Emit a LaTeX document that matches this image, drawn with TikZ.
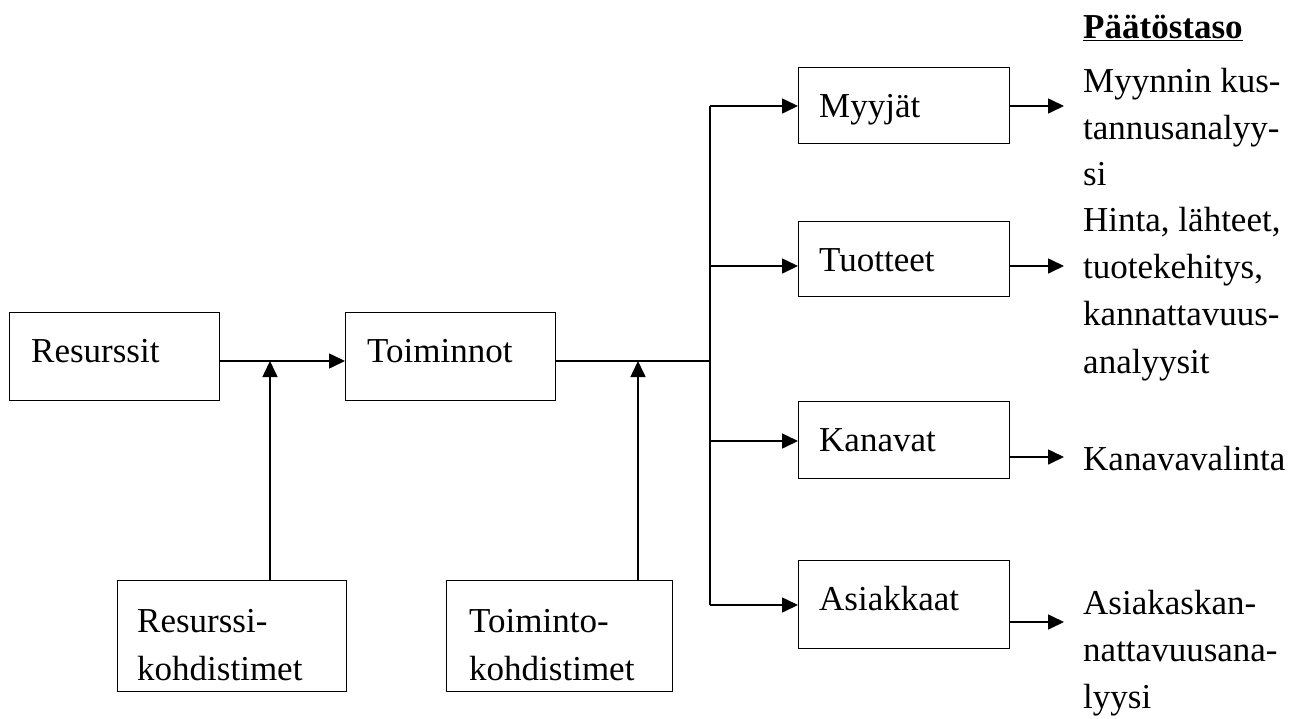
\documentclass[tikz,border=0pt]{standalone}
\usepackage{fontspec}
\setmainfont{Liberation Serif}
\usetikzlibrary{arrows.meta}
\begin{document}
\begin{tikzpicture}[x=1pt,y=-1pt,
  box/.style={draw, line width=1.2pt, inner sep=0pt, anchor=north west},
  txt/.style={anchor=base west, inner sep=0pt, font=\fontsize{35}{47}\selectfont},
  arr/.style={line width=1.6pt, -{Triangle[length=16pt,width=15pt]}},
  thinlink/.style={line width=1.1pt}]
\useasboundingbox (0,0) rectangle (1298,718);

% boxes
\node[box, minimum width=210pt, minimum height=88pt]  (res) at (9,312) {};
\node[box, minimum width=210pt, minimum height=88pt]  (toi) at (345,312) {};
\node[box, minimum width=229pt, minimum height=111pt] (rk)  at (117,580) {};
\node[box, minimum width=226pt, minimum height=111pt] (tk)  at (446,580) {};
\node[box, minimum width=211pt, minimum height=76pt]  (myy) at (798,67) {};
\node[box, minimum width=211pt, minimum height=75pt]  (tuo) at (798,221) {};
\node[box, minimum width=211pt, minimum height=77pt]  (kan) at (798,401) {};
\node[box, minimum width=211pt, minimum height=88pt]  (asi) at (798,560) {};

% box texts
\node[txt] (tres) at (31,362) {Resurssit};
\node[txt] (ttoi) at (367,362) {Toiminnot};
\node[txt] (trk1) at (137,632) {Resurssi-};
\node[txt] (trk2) at (137,680) {kohdistimet};
\node[txt] (ttk1) at (469,632) {Toiminto-};
\node[txt] (ttk2) at (469,680) {kohdistimet};
\node[txt] (tmyy) at (819,117) {Myyjät};
\node[txt] (ttuo) at (819,271) {Tuotteet};
\node[txt] (tkan) at (819,451) {Kanavat};
\node[txt] (tasi) at (819,610) {Asiakkaat};

% decision level column
\node[txt] (head) at (1083,38) {\underline{\textbf{Päätöstaso}}};
\node[txt] (d1) at (1083,92)  {Myynnin kus-};
\node[txt] (d2) at (1083,139) {tannusanalyy-};
\node[txt] (d3) at (1083,185) {si};
\node[txt] (d4) at (1083,231) {Hinta, lähteet,};
\node[txt] (d5) at (1083,278) {tuotekehitys,};
\node[txt] (d6) at (1083,325) {kannattavuus-};
\node[txt] (d7) at (1083,373) {analyysit};
\node[txt] (d8) at (1083,470) {Kanavavalinta};
\node[txt] (d9) at (1083,614) {Asiakaskan-};
\node[txt] (d10) at (1083,661) {nattavuusana-};
\node[txt] (d11) at (1083,708) {lyysi};

% junction points
\coordinate (j1) at (270,361);
\coordinate (j2) at (638,361);
\coordinate (b0) at (710,361);
\coordinate (b1) at (710,106);
\coordinate (b2) at (710,266);
\coordinate (b3) at (710,441);
\coordinate (b4) at (710,605);
\coordinate (o1) at (1064,106);
\coordinate (o2) at (1064,266);
\coordinate (o3) at (1064,457);
\coordinate (o4) at (1064,622);

% main flow
\draw[arr] (res.east |- j1) -- (toi.west |- j1);
\draw[arr] (rk.north -| j1) -- (j1);
\draw[thinlink] (toi.east |- j2) -- (b0);
\draw[arr] (tk.north -| j2) -- (j2);

% distribution bus
\draw[thinlink] (b1) -- (b4);
\draw[arr] (b1) -- (b1 -| myy.west);
\draw[arr] (b2) -- (b2 -| tuo.west);
\draw[arr] (b3) -- (b3 -| kan.west);
\draw[arr] (b4) -- (b4 -| asi.west);

% outputs
\draw[arr] (myy.east |- o1) -- (o1);
\draw[arr] (tuo.east |- o2) -- (o2);
\draw[arr] (kan.east |- o3) -- (o3);
\draw[arr] (asi.east |- o4) -- (o4);
\end{tikzpicture}
\end{document}
